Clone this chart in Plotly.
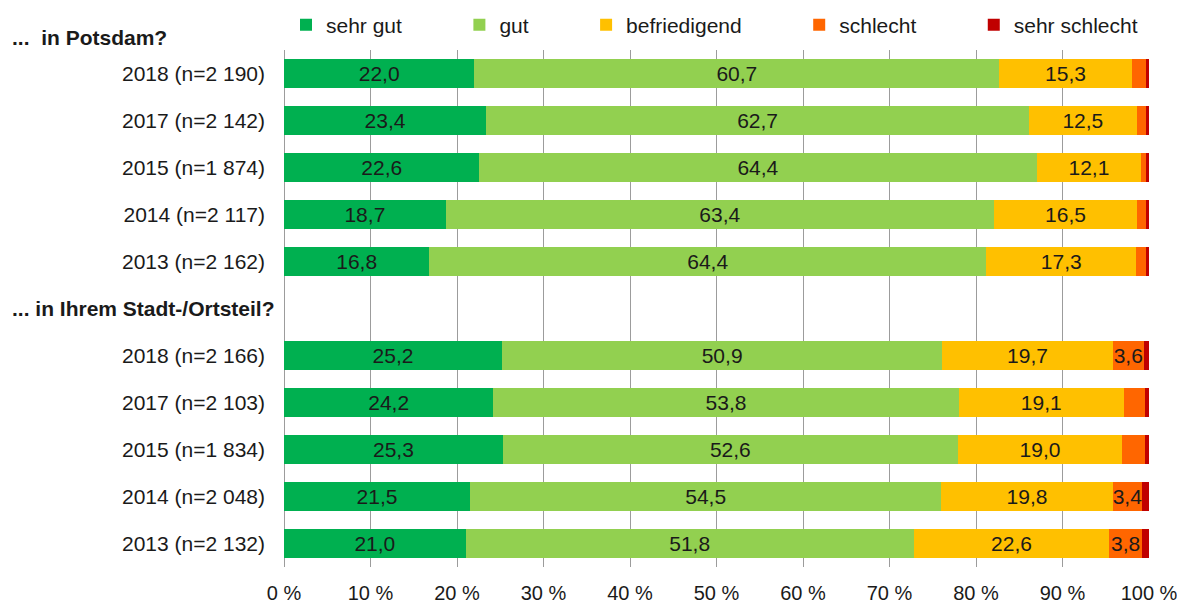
import plotly.graph_objects as go

# Row labels (top to bottom within each block)
labels_potsdam = ["2018 (n=2 190)", "2017 (n=2 142)", "2015 (n=1 874)", "2014 (n=2 117)", "2013 (n=2 162)"]
labels_stadtteil = ["2018 (n=2 166)", "2017 (n=2 103)", "2015 (n=1 834)", "2014 (n=2 048)", "2013 (n=2 132)"]

header_potsdam = "...\u00a0\u00a0in Potsdam?"
header_stadtteil = "... in Ihrem Stadt-/Ortsteil?"

series_names = ["sehr gut", "gut", "befriedigend", "schlecht", "sehr schlecht"]
series_colors = ["#00B050", "#92D050", "#FFC000", "#FF6600", "#C00000"]

# values per series: Potsdam block (2018, 2017, 2015, 2014, 2013)
potsdam_sehr_gut = [22.0, 23.4, 22.6, 18.7, 16.8]
potsdam_gut = [60.7, 62.7, 64.4, 63.4, 64.4]
potsdam_befriedigend = [15.3, 12.5, 12.1, 16.5, 17.3]
potsdam_schlecht = [1.7, 1.1, 0.6, 1.1, 1.2]
potsdam_sehr_schlecht = [0.3, 0.3, 0.4, 0.3, 0.3]

# Stadt-/Ortsteil block (2018, 2017, 2015, 2014, 2013)
stadtteil_sehr_gut = [25.2, 24.2, 25.3, 21.5, 21.0]
stadtteil_gut = [50.9, 53.8, 52.6, 54.5, 51.8]
stadtteil_befriedigend = [19.7, 19.1, 19.0, 19.8, 22.6]
stadtteil_schlecht = [3.6, 2.4, 2.6, 3.4, 3.8]
stadtteil_sehr_schlecht = [0.6, 0.5, 0.5, 0.8, 0.8]

x_ticks = [0, 10, 20, 30, 40, 50, 60, 70, 80, 90, 100]
x_ticktext = [f"{v} %" for v in x_ticks]

potsdam = [potsdam_sehr_gut, potsdam_gut, potsdam_befriedigend, potsdam_schlecht, potsdam_sehr_schlecht]
stadtteil = [stadtteil_sehr_gut, stadtteil_gut, stadtteil_befriedigend, stadtteil_schlecht, stadtteil_sehr_schlecht]

FONT = "Liberation Sans, Arial, Helvetica, sans-serif"
TXT = "#1a1a1a"

# The page body has an 8px margin; the figure is sized to fill the rest of the window.
OFF = 8
W, H = 1185 - OFF, 604 - OFF
PL, PR, PT, PB = 284 - OFF, 36, 50 - OFF, 37
PW = W - PL - PR
PH = H - PT - PB

def px_x(px):
    return (px - OFF - PL) / PW

def px_y(py):
    return (H - PB - (py - OFF)) / PH

y_pos = [0, 1, 2, 3, 4, 6, 7, 8, 9, 10]
y_labels = labels_potsdam + labels_stadtteil

PAD = "\u00a0" * 9

fig = go.Figure()
for i, name in enumerate(series_names):
    vals = potsdam[i] + stadtteil[i]
    texts = [(f"{v:.1f}".replace(".", ",") if v >= 3 else "") for v in vals]
    legend_name = name + (PAD if i < len(series_names) - 1 else "")
    fig.add_trace(go.Bar(
        name=legend_name,
        x=vals,
        y=y_pos,
        orientation="h",
        marker=dict(color=series_colors[i], line=dict(width=0)),
        text=texts,
        textposition="inside",
        insidetextanchor="middle",
        textangle=0,
        insidetextfont=dict(color=TXT, size=21, family=FONT),
        hoverinfo="x+name",
    ))

fig.add_annotation(text=header_potsdam, xref="paper", yref="paper", x=px_x(10), y=px_y(38),
                   xanchor="left", yanchor="middle", showarrow=False,
                   font=dict(size=21, family=FONT, color=TXT, weight="bold"))
fig.add_annotation(text=header_stadtteil, xref="paper", yref="paper", x=px_x(10), y=px_y(308),
                   xanchor="left", yanchor="middle", showarrow=False,
                   font=dict(size=21, family=FONT, color=TXT, weight="bold"))

fig.update_layout(
    width=W, height=H,
    barmode="stack", bargap=0.4,
    margin=dict(l=PL, r=PR, t=PT, b=PB, pad=0, autoexpand=False),
    paper_bgcolor="white", plot_bgcolor="white",
    font=dict(family=FONT, size=21, color=TXT),
    uniformtext=dict(minsize=21, mode="show"),
    showlegend=True,
    legend=dict(orientation="h", x=px_x(286), xanchor="left", y=px_y(25), yanchor="middle",
                font=dict(size=21, family=FONT, color=TXT), traceorder="normal",
                bgcolor="rgba(0,0,0,0)"),
    xaxis=dict(range=[0, 100], tickvals=x_ticks, ticktext=x_ticktext, showgrid=True,
               gridcolor="#9c9c9c", gridwidth=1, zeroline=True, zerolinecolor="#9c9c9c",
               zerolinewidth=1, showline=False, ticks="", ticklabelstandoff=12, automargin=False,
               tickfont=dict(size=20, family=FONT, color=TXT), fixedrange=True),
    yaxis=dict(range=[10.5, -0.5], tickvals=y_pos, ticktext=y_labels, showgrid=False,
               zeroline=False, showline=False, ticks="", ticklabelstandoff=18, automargin=False,
               tickfont=dict(size=21, family=FONT, color=TXT), fixedrange=True),
)

fig.write_html("out.html")
